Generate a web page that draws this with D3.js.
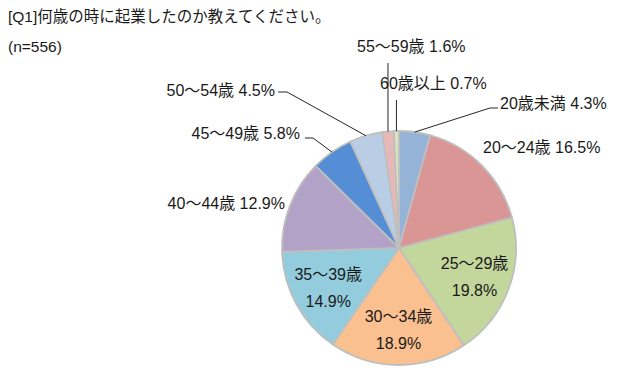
<!DOCTYPE html>
<html>
<head>
<meta charset="utf-8">
<script src="https://cdn.jsdelivr.net/npm/d3@7"></script>
<style>
  body { margin: 0; background: #fff; }
  svg text { font-family: "Liberation Sans", "Noto Sans CJK JP", sans-serif; fill: #1a1a1a; }
</style>
</head>
<body>
<div id="chart"></div>
<script>
// data
var categories = ['20歳未満', '20～24歳', '25～29歳', '30～34歳', '35～39歳', '40～44歳', '45～49歳', '50～54歳', '55～59歳', '60歳以上'];
var percents = [4.3, 16.5, 19.8, 18.9, 14.9, 12.9, 5.8, 4.5, 1.6, 0.7];
var colors = ['#95B3D7', '#D99694', '#C3D69B', '#FAC090', '#93CDDD', '#B3A2C7', '#558ED5', '#B9CDE5', '#E6B9B8', '#D7E4BD'];
var title = '[Q1]何歳の時に起業したのか教えてください。';
var subtitle = '(n=556)';

var width = 626, height = 371;
var cx = 399, cy = 248, radius = 117;

var svg = d3.select('#chart').append('svg')
  .attr('width', width)
  .attr('height', height);

svg.append('text').attr('x', 8).attr('y', 22).style('font-size', '15.5px').text(title);
svg.append('text').attr('x', 8).attr('y', 52).style('font-size', '15.5px').text(subtitle);

var data = categories.map(function(c, i) { return {label: c, value: percents[i], color: colors[i]}; });

var pie = d3.pie().value(function(d) { return d.value; }).sort(null);
var arcs = pie(data);

var arc = d3.arc().innerRadius(0).outerRadius(radius);
var rimArc = d3.arc().innerRadius(radius).outerRadius(radius);
var innerLabelArc = d3.arc().innerRadius(radius * 0.69).outerRadius(radius * 0.69);

var g = svg.append('g').attr('transform', 'translate(' + cx + ',' + cy + ')');

g.selectAll('path')
  .data(arcs)
  .enter()
  .append('path')
  .attr('d', arc)
  .attr('fill', function(d) { return d.data.color; })
  .attr('stroke', '#BFBFBF')
  .attr('stroke-width', 1.8);

// labels inside the pie (two lines)
var insideIdx = [2, 3, 4];
insideIdx.forEach(function(i) {
  var c = innerLabelArc.centroid(arcs[i]);
  var t = g.append('text')
    .attr('text-anchor', 'middle')
    .style('font-size', '16px');
  t.append('tspan').attr('x', c[0]).attr('y', c[1] - 7).text(categories[i]);
  t.append('tspan').attr('x', c[0]).attr('y', c[1] + 20).text(percents[i].toFixed(1) + '%');
});

// outside labels: placed like the original, leader lines run to the rim
var outside = {
  0: {x: 500, y: 108.5, anchor: 'start', leader: [[490, 108], [498, 108]]},
  1: {x: 483, y: 152.5, anchor: 'start'},
  5: {x: 285, y: 208.5, anchor: 'end'},
  6: {x: 300, y: 138.5, anchor: 'end', leader: [[313, 138], [305, 138]]},
  7: {x: 275, y: 95.5, anchor: 'end', leader: [[287, 92], [278, 92]]},
  8: {x: 357, y: 51.5, anchor: 'start', vleader: 63},
  9: {x: 380, y: 88.5, anchor: 'start', vleader: 100}
};

var line = d3.line();

Object.keys(outside).forEach(function(k) {
  var i = +k, o = outside[k];
  var rim = rimArc.centroid(arcs[i]);
  var p0 = [cx + rim[0], cy + rim[1]];
  var pts = null;
  if (o.leader) pts = [p0].concat(o.leader);
  if (o.vleader) pts = [p0, [p0[0], o.vleader]];
  if (pts) {
    svg.append('path')
      .attr('d', line(pts))
      .attr('fill', 'none')
      .attr('stroke', '#262626')
      .attr('stroke-width', 1);
  }
  svg.append('text')
    .attr('x', o.x)
    .attr('y', o.y)
    .attr('text-anchor', o.anchor)
    .style('font-size', '16px')
    .text(categories[i] + ' ' + percents[i].toFixed(1) + '%');
});
</script>
</body>
</html>
